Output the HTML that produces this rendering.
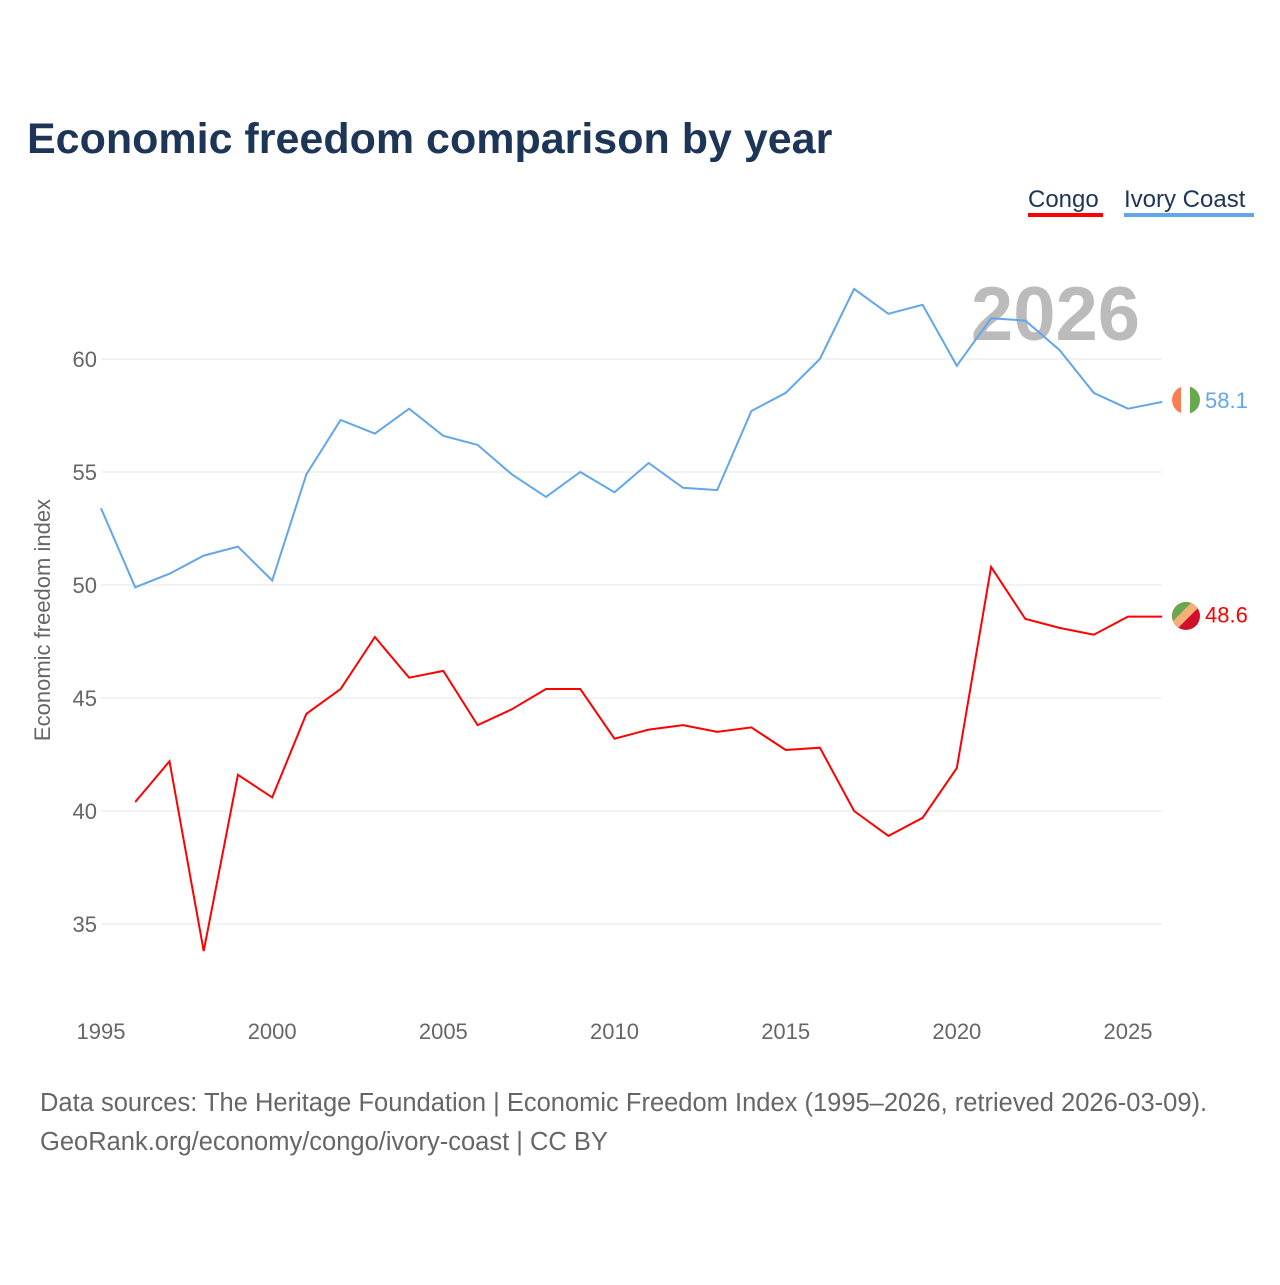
<!DOCTYPE html>
<html><head><meta charset="utf-8"><style>
body{margin:0;background:#fff;font-family:"Liberation Sans",sans-serif}
svg text{font-family:"Liberation Sans",sans-serif}
</style></head><body>
<svg id="c" width="1280" height="1280" xmlns="http://www.w3.org/2000/svg">
<defs>
<clipPath id="cf1"><circle cx="1186" cy="400" r="14"/></clipPath>
<clipPath id="cf2"><circle cx="1186" cy="616" r="14"/></clipPath>
</defs>
<text x="27" y="153" font-size="43" font-weight="bold" fill="#1d3557">Economic freedom comparison by year</text>
<g><text x="1028" y="207" font-size="24" fill="#1d3557">Congo</text><rect x="1028" y="213" width="75" height="4" fill="#ff0000"/></g>
<g><text x="1124" y="207" font-size="24" fill="#1d3557">Ivory Coast</text><rect x="1124" y="213" width="130" height="4" fill="#62a6ea"/></g>
<text x="1140" y="340" font-size="76" font-weight="bold" fill="#bbb" text-anchor="end">2026</text>
<g id="grid"></g><g id="xt"></g><g id="lines"></g>
<g clip-path="url(#cf1)">
<rect x="1172" y="386" width="10" height="28" fill="#f77f50"/><rect x="1181" y="386" width="10" height="28" fill="#fff"/><rect x="1190" y="386" width="10" height="28" fill="#6aa84f"/>
</g>
<g clip-path="url(#cf2)">
<rect x="1172" y="602" width="28" height="28" fill="#d0102a"/>
<polygon points="1172,602 1196,602 1172,626" fill="#6aa84f"/>
<polygon points="1192,602 1200,602 1200,606 1176,630 1172,630 1172,622" fill="#f5b07a"/>
</g>
<text transform="translate(50,620) rotate(-90)" font-size="22" fill="#666" text-anchor="middle">Economic freedom index</text>
<text x="40" y="1111" font-size="25.5" fill="#666">Data sources: The Heritage Foundation | Economic Freedom Index (1995–2026, retrieved 2026-03-09).</text>
<text x="40" y="1150" font-size="25.5" fill="#666">GeoRank.org/economy/congo/ivory-coast | CC BY</text>
</svg>
<script>
const years=[1995,1996,1997,1998,1999,2000,2001,2002,2003,2004,2005,2006,2007,2008,2009,2010,2011,2012,2013,2014,2015,2016,2017,2018,2019,2020,2021,2022,2023,2024,2025,2026];
const ivory=[53.4,49.9,50.5,51.3,51.7,50.2,54.9,57.3,56.7,57.8,56.6,56.2,54.9,53.9,55.0,54.1,55.4,54.3,54.2,57.7,58.5,60.0,63.1,62.0,62.4,59.7,61.8,61.7,60.4,58.5,57.8,58.1];
const congo=[null,40.4,42.2,33.8,41.6,40.6,44.3,45.4,47.7,45.9,46.2,43.8,44.5,45.4,45.4,43.2,43.6,43.8,43.5,43.7,42.7,42.8,40.0,38.9,39.7,41.9,50.8,48.5,48.1,47.8,48.6,48.6];
const yTicks=[35,40,45,50,55,60];
const xTicks=[1995,2000,2005,2010,2015,2020,2025];
const NS="http://www.w3.org/2000/svg";
const X=y=>101+(y-1995)*1027/30;
const Y=v=>359+(60-v)*22.6;
function mk(t,a,p){const e=document.createElementNS(NS,t);for(const k in a)e.setAttribute(k,a[k]);p.appendChild(e);return e;}
const g=document.getElementById('grid');
yTicks.forEach(v=>{
 const l=mk('line',{x1:101,x2:1162,y1:Y(v),y2:Y(v),stroke:'#e6e6e6'},g);
 
 
 const t=mk('text',{x:97,y:Y(v)+8,'font-size':22,fill:'#666','text-anchor':'end'},g);t.textContent=v;
 
 
});
const xt=document.getElementById('xt');
xTicks.forEach(v=>{
 const t=mk('text',{x:X(v),y:1039,'font-size':22,fill:'#666','text-anchor':'middle'},xt);t.textContent=v;
 
 
});
const L=document.getElementById('lines');
function series(vals,col,name){
 let d='';vals.forEach((v,i)=>{if(v==null)return;d+=(d?'L':'M')+X(years[i]).toFixed(1)+','+Y(v).toFixed(1);});
 const p=mk('path',{d:d,fill:'none',stroke:col,'stroke-width':2},L);
 
 
 const last=vals[vals.length-1];
 const t=mk('text',{x:1205,y:Y(last)+6,'font-size':22,fill:col},L);t.textContent=last.toFixed(1);
 
 
}
series(ivory,'#62a6ea','ivory-coast');
series(congo,'#ff0000','congo');
</script>
</body></html>
